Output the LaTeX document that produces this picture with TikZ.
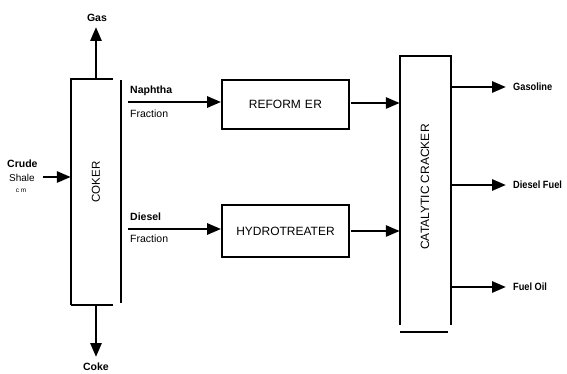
\documentclass[tikz,border=0pt]{standalone}
\usepackage{fontspec}
\setmainfont{Liberation Sans}
\usetikzlibrary{arrows.meta,calc}
\begin{document}
\begin{tikzpicture}[x=1pt,y=-1pt,
  boxline/.style={line width=1.8pt},
  flow/.style={line width=2.8pt,-{Triangle[length=14pt,width=11pt]}},
  lbl/.style={font=\fontsize{10.5}{11}\selectfont\bfseries,inner sep=0pt},
  prod/.style={lbl,anchor=west,xscale=0.88},
  flbl/.style={font=\fontsize{10.5}{11}\selectfont,inner sep=0pt,anchor=west},
  unit/.style={draw,line width=1.8pt,font=\fontsize{12}{13}\selectfont,inner sep=0pt},
  every node/.style={text=black}]
\useasboundingbox (0,0) rectangle (567,374);
% coker
\node[minimum width=42pt,minimum height=226pt,inner sep=0pt] (coker) at (92,192) {};
\node[rotate=90,font=\fontsize{11.5}{12}\selectfont] (cokerlbl) at (96,182) {COKER};
\draw[boxline] (coker.south west) -- (coker.north west) -- (coker.north east);
\draw[boxline] (coker.south west) -- (coker.south east);
\coordinate (cr1) at (121,80);
\coordinate (cr2) at (121,303);
\draw[boxline] (cr1) -- (cr2);
% gas / coke
\coordinate (gasfoot) at (96,79);
\node[lbl] (gas) at (97,18) {Gas};
\draw[flow] (gasfoot) -- ++(0,-52);
\coordinate (cokefoot) at (96,305);
\node[lbl] (coke) at (96,367) {Coke};
\draw[flow] (cokefoot) -- ++(0,52);
% crude
\node[lbl,anchor=west] (crude) at (7,164) {Crude};
\node[font=\fontsize{10}{11}\selectfont,inner sep=0pt,anchor=west] (shale) at (9,178) {Shale};
\node[font=\fontsize{6.5}{7}\selectfont,inner sep=0pt] (cm) at (21,191) {c m};
\coordinate (crudestart) at (43,177);
\draw[flow] (crudestart) -- (crudestart -| coker.west);
% units
\node[unit,minimum width=127pt,minimum height=49pt] (reformer) at (285.5,104.5) {REFORM\,\,E\kern0.5ptR};
\node[unit,minimum width=127pt,minimum height=52pt] (hydro) at (285.5,231) {HYDROTREATER};
% naphtha / diesel
\node[lbl,anchor=west] (naph) at (130,91) {Naphtha};
\node[flbl] (frac1) at (130,114) {Fraction};
\coordinate (nstart) at (128,102);
\draw[flow] (nstart) -- (nstart -| reformer.west);
\node[lbl,anchor=west] (dies) at (130,217) {Diesel};
\node[flbl] (frac2) at (130,239) {Fraction};
\coordinate (dstart) at (128,229);
\draw[flow] (dstart) -- (dstart -| hydro.west);
% catalytic cracker
\node[minimum width=51pt,minimum height=269pt,inner sep=0pt] (cracker) at (425.5,190.5) {};
\node[rotate=90,font=\fontsize{12}{13}\selectfont] (crlbl) at (425,187) {CATALYTIC CRACKER};
\draw[boxline] (cracker.south west) -- (cracker.north west) -- (cracker.north east) -- (cracker.south east);
\coordinate (cb1) at (400,332);
\coordinate (cb2) at (448,332);
\draw[boxline] (cb1) -- (cb2);
\coordinate (r1) at (351,103);
\coordinate (h1) at (351,231);
\draw[flow] (r1) -- (r1 -| cracker.west);
\draw[flow] (h1) -- (h1 -| cracker.west);
% products
\node[prod] (gasoline) at (513,87) {Gasoline};
\node[prod] (dfuel) at (513,185) {Diesel Fuel};
\node[prod] (foil) at (513,287) {Fuel Oil};
\coordinate (e1) at (506,87);
\coordinate (e2) at (506,185);
\coordinate (e3) at (506,287);
\draw[flow] (e1 -| cracker.east) -- (e1);
\draw[flow] (e2 -| cracker.east) -- (e2);
\draw[flow] (e3 -| cracker.east) -- (e3);
\end{tikzpicture}
\end{document}
